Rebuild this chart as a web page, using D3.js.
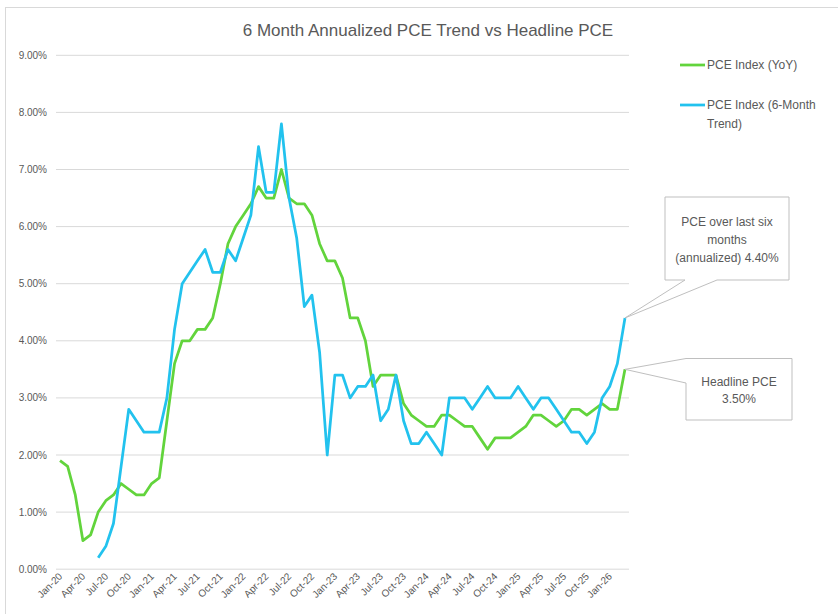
<!DOCTYPE html>
<html>
<head>
<meta charset="utf-8">
<script src="https://cdn.jsdelivr.net/npm/d3@7"></script>
<style>
  body { margin: 0; background: #fff; }
  text { font-family: "Liberation Sans", Arial, sans-serif; fill: #595959; }
</style>
</head>
<body>
<svg id="chart" width="838" height="614"></svg>
<script>
// months Jan-20 .. Mar-26
const monthNames = ["Jan","Feb","Mar","Apr","May","Jun","Jul","Aug","Sep","Oct","Nov","Dec"]
const months = []
for (let y = 20; y <= 26; y++) {
    for (let m = 0; m < 12; m++) {
        if (y == 26 && m > 2) break
        months.push(monthNames[m] + "-" + y)
    }
}

const yoy = [1.9,1.8,1.3,0.5,0.6,1.0,1.2,1.3,1.5,1.4,1.3,1.3,
    1.5,1.6,2.6,3.6,4.0,4.0,4.2,4.2,4.4,5.0,5.7,6.0,
    6.2,6.4,6.7,6.5,6.5,7.0,6.5,6.4,6.4,6.2,5.7,5.4,
    5.4,5.1,4.4,4.4,4.0,3.2,3.4,3.4,3.4,2.9,2.7,2.6,
    2.5,2.5,2.7,2.7,2.6,2.5,2.5,2.3,2.1,2.3,2.3,2.3,
    2.4,2.5,2.7,2.7,2.6,2.5,2.6,2.8,2.8,2.7,2.8,2.9,
    2.8,2.8,3.5]

const trend = [null,null,null,null,null,0.2,0.4,0.8,1.8,2.8,2.6,2.4,
    2.4,2.4,3.0,4.2,5.0,5.2,5.4,5.6,5.2,5.2,5.6,5.4,
    5.8,6.2,7.4,6.6,6.6,7.8,6.5,5.8,4.6,4.8,3.8,2.0,
    3.4,3.4,3.0,3.2,3.2,3.4,2.6,2.8,3.4,2.6,2.2,2.2,
    2.4,2.2,2.0,3.0,3.0,3.0,2.8,3.0,3.2,3.0,3.0,3.0,
    3.2,3.0,2.8,3.0,3.0,2.8,2.6,2.4,2.4,2.2,2.4,3.0,
    3.2,3.6,4.4]

const yTicks = [0,1,2,3,4,5,6,7,8,9]
const seriesNames = ["PCE Index (YoY)", "PCE Index (6-Month Trend)"]
const green = "#62d43c", blue = "#22c2ee"

const svg = d3.select("#chart")
svg.append("rect").attr("x",5.5).attr("y",7.5).attr("width",900).attr("height",700)
    .attr("fill","#fff").attr("stroke","#d9d9d9")

const x = d3.scaleBand().domain(months).range([56.2, 628.8])
const xc = d => x(d) + x.bandwidth()/2
const y = d3.scaleLinear().domain([0,9]).range([569.2, 55.3])

// gridlines
svg.append("g").selectAll("line").data(yTicks).join("line")
    .attr("x1",56).attr("x2",629)
    .attr("y1",d => y(d)).attr("y2",d => y(d))
    .attr("stroke","#d9d9d9").attr("stroke-width",1)

svg.append("g").selectAll("text").data(yTicks).join("text")
    .attr("x",47).attr("y",d => y(d)).attr("dy","0.35em")
    .attr("text-anchor","end").attr("font-size",10)
    .text(d => d3.format(".2f")(d) + "%")

// x labels every 3 months
svg.append("g").selectAll("text").data(months.filter((d,i) => i % 3 == 0)).join("text")
    .attr("text-anchor","end").attr("font-size",10)
    .attr("transform", d => "translate(" + (xc(d) + 3) + ",577) rotate(-45)")
    .text(d => d)

svg.append("text").attr("x",428).attr("y",36).attr("text-anchor","middle")
    .attr("font-size",17).text("6 Month Annualized PCE Trend vs Headline PCE")

const line = d3.line().defined(d => d.v != null).x(d => xc(d.m)).y(d => y(d.v))
const mk = arr => arr.map((v,i) => ({m: months[i], v: v}))

svg.append("path").attr("d", line(mk(yoy)))
    .attr("fill","none").attr("stroke",green).attr("stroke-width",2.75)
    .attr("stroke-linejoin","round")
svg.append("path").attr("d", line(mk(trend)))
    .attr("fill","none").attr("stroke",blue).attr("stroke-width",2.75)
    .attr("stroke-linejoin","round")

// legend
svg.append("line").attr("x1",680).attr("x2",705).attr("y1",65).attr("y2",65)
    .attr("stroke",green).attr("stroke-width",2.75)
svg.append("text").attr("x",707).attr("y",65).attr("dy","0.35em").attr("font-size",12).text(seriesNames[0])
svg.append("line").attr("x1",680).attr("x2",705).attr("y1",105).attr("y2",105)
    .attr("stroke",blue).attr("stroke-width",2.75)
svg.append("text").attr("x",707).attr("y",105).attr("dy","0.35em").attr("font-size",12).text("PCE Index (6-Month")
svg.append("text").attr("x",707).attr("y",124).attr("dy","0.35em").attr("font-size",12).text("Trend)")

// callouts
const last = months[months.length-1]
const px = xc(last)
const pb = y(trend[trend.length-1]), pg = y(yoy[yoy.length-1])
const fmt = d3.format(".2f")

svg.append("path")
    .attr("d", "M665,197 H789 V280 H717 L" + px + "," + pb + " L685,280 H665 Z")
    .attr("fill","#fff").attr("stroke","#bfbfbf").attr("stroke-width",1)
const t1 = ["PCE over last six","months","(annualized) " + fmt(trend[trend.length-1]) + "%"]
svg.append("g").selectAll("text").data(t1).join("text")
    .attr("x",727).attr("y",(d,i) => 222 + i*18).attr("dy","0.35em")
    .attr("text-anchor","middle").attr("font-size",12).text(d => d)

svg.append("path")
    .attr("d", "M686,358.5 H792 V420 H686 V383 L" + px + "," + pg + " Z")
    .attr("fill","#fff").attr("stroke","#bfbfbf").attr("stroke-width",1)
const t2 = ["Headline PCE", fmt(yoy[yoy.length-1]) + "%"]
svg.append("g").selectAll("text").data(t2).join("text")
    .attr("x",739).attr("y",(d,i) => 382 + i*17).attr("dy","0.35em")
    .attr("text-anchor","middle").attr("font-size",12).text(d => d)
</script>
</body>
</html>
